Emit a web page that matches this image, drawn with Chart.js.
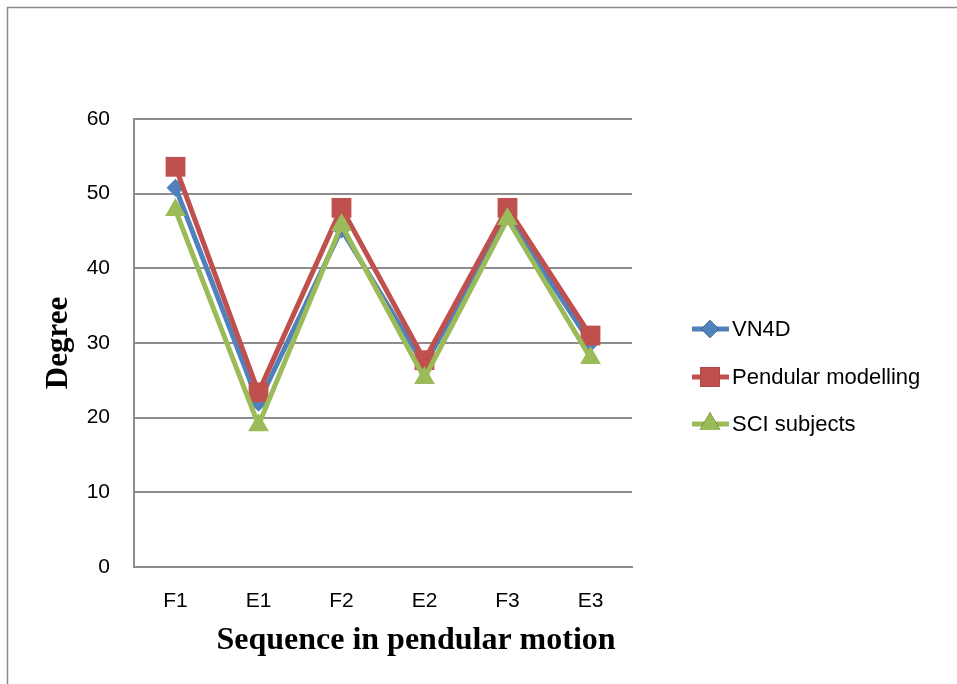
<!DOCTYPE html>
<html>
<head>
<meta charset="utf-8">
<script src="https://cdn.jsdelivr.net/npm/chart.js@4/dist/chart.umd.min.js"></script>
<style>
  html, body { margin: 0; padding: 0; background: #ffffff; }
  #wrap { width: 957px; height: 684px; position: relative; }
</style>
</head>
<body>
<div id="wrap"><canvas id="c" width="957" height="684"></canvas></div>
<script>
// Phases of the pendular motion (flexion / extension)
const categories = ['F1', 'E1', 'F2', 'E2', 'F3', 'E3'];

// Angles in degrees for each method
const vn4d = [50.8, 22.0, 45.2, 27.0, 47.0, 30.0];
const pendularModelling = [53.6, 23.4, 48.1, 27.7, 48.1, 31.0];
const sciSubjects = [47.8, 19.0, 45.8, 25.3, 46.6, 28.0];

const seriesNames = ['VN4D', 'Pendular modelling', 'SCI subjects'];
const yTicks = [0, 10, 20, 30, 40, 50, 60];
const xTitle = 'Sequence in pendular motion';

const tickFont = '"Liberation Sans", Arial, sans-serif';
const titleFont = '"Liberation Serif", "Times New Roman", serif';
const gridColor = '#8c8c8c';

// Outer frame, x-axis caption and line-with-marker legend drawn on the canvas
const framePlugin = {
  id: 'frameAndLegend',
  afterDraw(chart) {
    const ctx = chart.ctx;
    ctx.save();
    ctx.strokeStyle = '#8a8a8a';
    ctx.lineWidth = 1.5;
    ctx.beginPath();
    ctx.moveTo(7.5, 684);
    ctx.lineTo(7.5, 7.5);
    ctx.lineTo(957, 7.5);
    ctx.stroke();

    // x-axis caption, centred slightly right of the plot centre
    ctx.fillStyle = '#000000';
    ctx.font = 'bold 32px ' + titleFont;
    ctx.textAlign = 'center';
    ctx.textBaseline = 'middle';
    ctx.fillText(xTitle, 416, 641);

    const rows = [329, 377, 424];
    [0, 1, 2].forEach(i => {
      const ds = chart.data.datasets[i];
      const y = rows[i];
      ctx.strokeStyle = ds.borderColor;
      ctx.lineWidth = 5;
      ctx.lineCap = 'butt';
      ctx.beginPath();
      ctx.moveTo(692, y);
      ctx.lineTo(729, y);
      ctx.stroke();
      Chart.helpers.drawPoint(ctx, {
        pointStyle: ds.pointStyle,
        radius: ds.pointRadius,
        rotation: 0,
        borderWidth: 0
      }, 710, y);
      ctx.fillStyle = ds.borderColor;
      ctx.fill();
      ctx.fillStyle = '#000000';
      ctx.font = '22px ' + tickFont;
      ctx.textAlign = 'left';
      ctx.textBaseline = 'middle';
      ctx.fillText(ds.label, 732, y + 1);
    });
    ctx.restore();
  }
};

function series(label, data, color, style, radius, order) {
  return {
    label: label,
    data: data,
    borderColor: color,
    backgroundColor: color,
    pointBackgroundColor: color,
    pointBorderColor: color,
    pointBorderWidth: 0,
    borderWidth: 5,
    pointStyle: style,
    pointRadius: radius,
    pointHoverRadius: radius,
    tension: 0,
    order: order
  };
}

new Chart(document.getElementById('c'), {
  type: 'line',
  data: {
    labels: categories,
    datasets: [
      series(seriesNames[0], vn4d, '#4F81BD', 'rectRot', 9, 2),
      series(seriesNames[1], pendularModelling, '#C0504D', 'rect', 14, 1),
      series(seriesNames[2], sciSubjects, '#9BBB59', 'triangle', 12, 0)
    ]
  },
  options: {
    responsive: false,
    animation: false,
    devicePixelRatio: 1,
    layout: { padding: { left: 0, top: 119, right: 325, bottom: 0 } },
    plugins: {
      legend: { display: false },
      tooltip: { enabled: false }
    },
    scales: {
      x: {
        offset: true,
        grid: { display: false, drawTicks: false },
        border: { display: true, color: gridColor, width: 2 },
        ticks: { color: '#000000', font: { family: tickFont, size: 21 }, padding: 22 },
        title: { display: false },
        afterFit(scale) { scale.height = 117; }
      },
      y: {
        min: 0,
        max: 60,
        afterBuildTicks(scale) { scale.ticks = yTicks.map(v => ({ value: v })); },
        grid: { color: gridColor, lineWidth: 2, drawTicks: false },
        border: { display: true, color: gridColor, width: 2 },
        ticks: { color: '#000000', font: { family: tickFont, size: 21 }, padding: 24 },
        title: {
          display: true,
          text: 'Degree',
          color: '#000000',
          font: { family: titleFont, size: 31, weight: 'bold' },
          padding: { top: 40, bottom: 0 }
        },
        afterFit(scale) { scale.width = 134; }
      }
    }
  },
  plugins: [framePlugin]
});
</script>
</body>
</html>
